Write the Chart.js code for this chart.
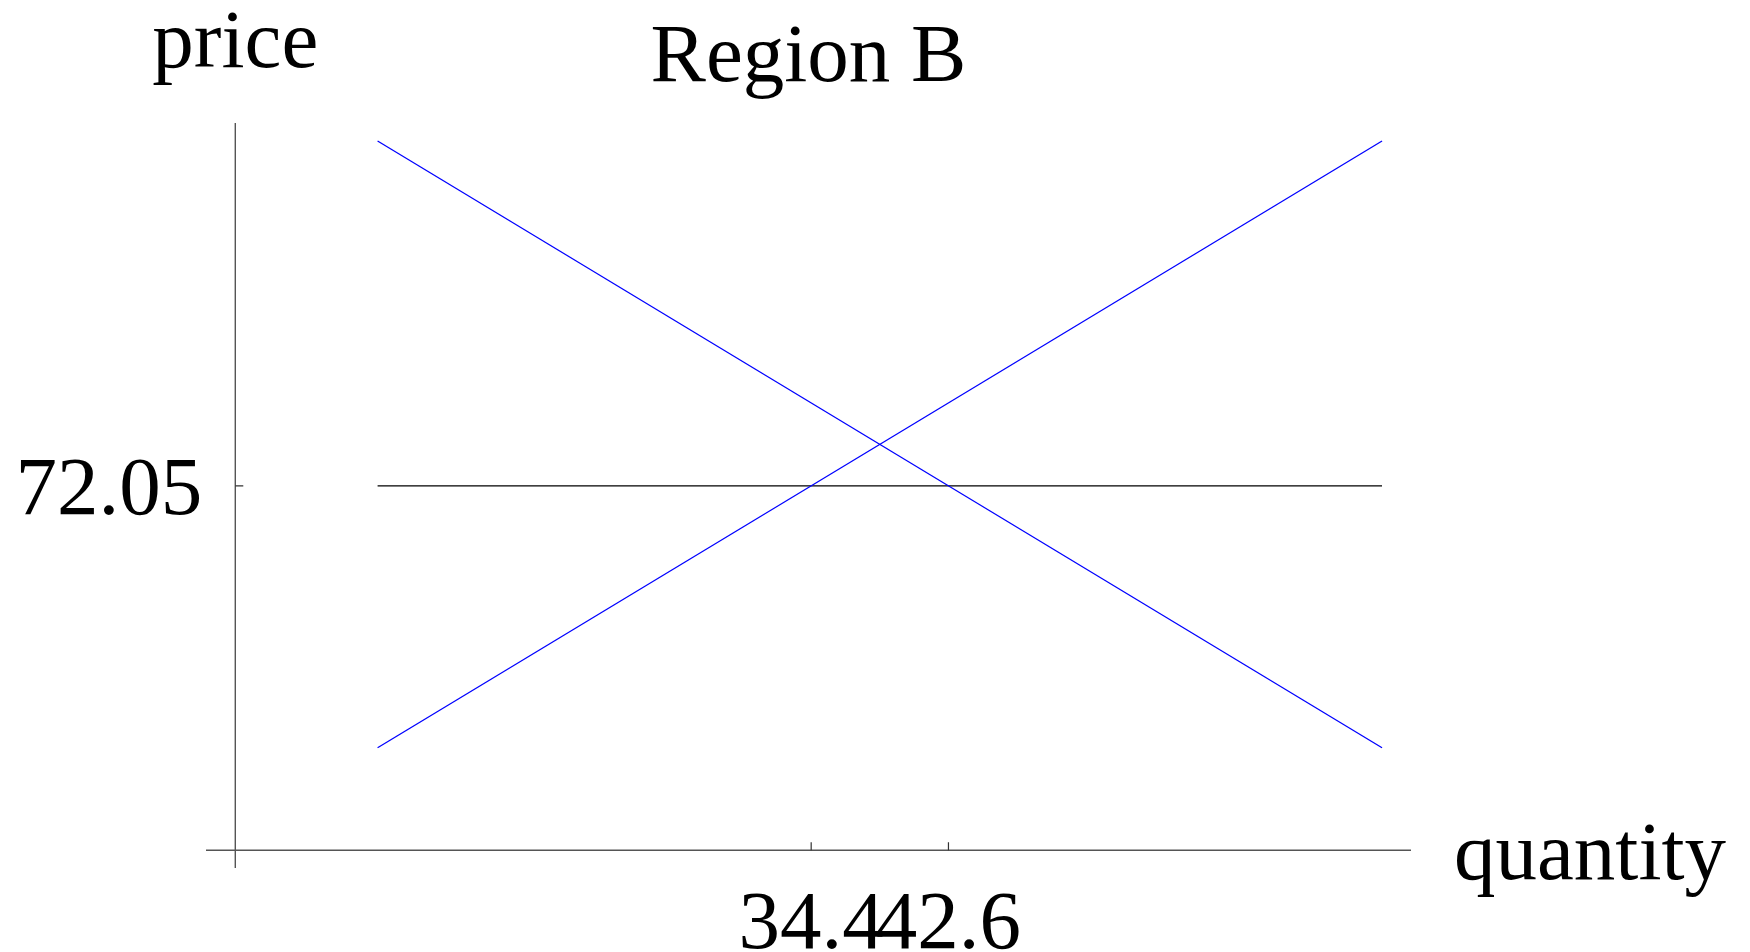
<!DOCTYPE html>
<html>
<head>
<meta charset="utf-8">
<title>Region B</title>
<script src="https://cdn.jsdelivr.net/npm/chart.js@4.4.1/dist/chart.umd.min.js"></script>
<style>
  html, body { margin: 0; padding: 0; background: #fff; }
  #wrap { width: 1750px; height: 952px; }
</style>
</head>
<body>
<div id="wrap"><canvas id="chart" width="1750" height="952"></canvas></div>
<script>
// data
const quantity = [8.5, 68.5];
const demandPrice = [140.25, 20.25];
const supplyPrice = [20.25, 140.25];
const equilibriumPrice = [72.05, 72.05];
const xTicks = [34.4, 42.6];
const xTickLabels = ['34.4', '42.6'];
const yTicks = [72.05];
const yTickLabels = ['72.05'];
const titleText = 'Region B';
const xAxisTitle = 'quantity';
const yAxisTitle = 'price';

const FONT = '83px "Liberation Serif", "Times New Roman", serif';

function toPoints(xs, ys) {
    return xs.map((x, i) => ({ x: x, y: ys[i] }));
}

// draws axes through the origin, inward ticks and all labels (Mathematica look)
const axesPlugin = {
    id: 'originAxes',
    afterDraw(chart) {
        const ctx = chart.ctx;
        const area = chart.chartArea;
        const xs = chart.scales.x;
        const ys = chart.scales.y;
        const x0 = xs.getPixelForValue(0);
        const y0 = ys.getPixelForValue(0);

        ctx.save();
        ctx.strokeStyle = '#555';
        ctx.lineWidth = 1.4;
        ctx.beginPath();
        ctx.moveTo(area.left, y0);
        ctx.lineTo(area.right, y0);
        ctx.moveTo(x0, area.top);
        ctx.lineTo(x0, area.bottom);
        ctx.stroke();

        // ticks point into the plot
        ctx.lineWidth = 1.2;
        ctx.strokeStyle = '#333';
        ctx.beginPath();
        xTicks.forEach(v => {
            const px = xs.getPixelForValue(v);
            ctx.moveTo(px, y0);
            ctx.lineTo(px, y0 - 8);
        });
        yTicks.forEach(v => {
            const py = ys.getPixelForValue(v);
            ctx.moveTo(x0, py);
            ctx.lineTo(x0 + 8, py);
        });
        ctx.stroke();

        ctx.fillStyle = '#000';
        ctx.font = FONT;
        ctx.textBaseline = 'alphabetic';

        ctx.textAlign = 'center';
        xTicks.forEach((v, i) => {
            ctx.fillText(xTickLabels[i], xs.getPixelForValue(v), y0 + 98);
        });

        ctx.textAlign = 'right';
        yTicks.forEach((v, i) => {
            ctx.fillText(yTickLabels[i], x0 - 33, ys.getPixelForValue(v) + 28);
        });

        ctx.textAlign = 'center';
        ctx.fillText(yAxisTitle, x0, 67);
        ctx.fillText(titleText, (area.left + area.right) / 2, 81);

        ctx.textAlign = 'left';
        ctx.fillText(xAxisTitle, 1454, y0 + 29);
        ctx.restore();
    }
};

const lineStyle = {
    showLine: true,
    pointRadius: 0,
    pointHoverRadius: 0,
    borderWidth: 1.3,
    fill: false,
    tension: 0
};

new Chart(document.getElementById('chart').getContext('2d'), {
    type: 'scatter',
    data: {
        datasets: [
            Object.assign({ label: 'demand', data: toPoints(quantity, demandPrice), borderColor: '#0000ff' }, lineStyle),
            Object.assign({ label: 'supply', data: toPoints(quantity, supplyPrice), borderColor: '#0000ff' }, lineStyle),
            Object.assign({ label: 'price', data: toPoints(quantity, equilibriumPrice), borderColor: '#000000' }, lineStyle)
        ]
    },
    options: {
        responsive: false,
        animation: false,
        events: [],
        layout: {
            padding: { left: 206, top: 123, right: 339, bottom: 84 }
        },
        plugins: {
            legend: { display: false },
            tooltip: { enabled: false },
            title: { display: false }
        },
        scales: {
            x: { type: 'linear', min: -1.75, max: 70.23, display: false },
            y: { type: 'linear', min: -3.52, max: 143.81, display: false }
        }
    },
    plugins: [axesPlugin]
});
</script>
</body>
</html>
